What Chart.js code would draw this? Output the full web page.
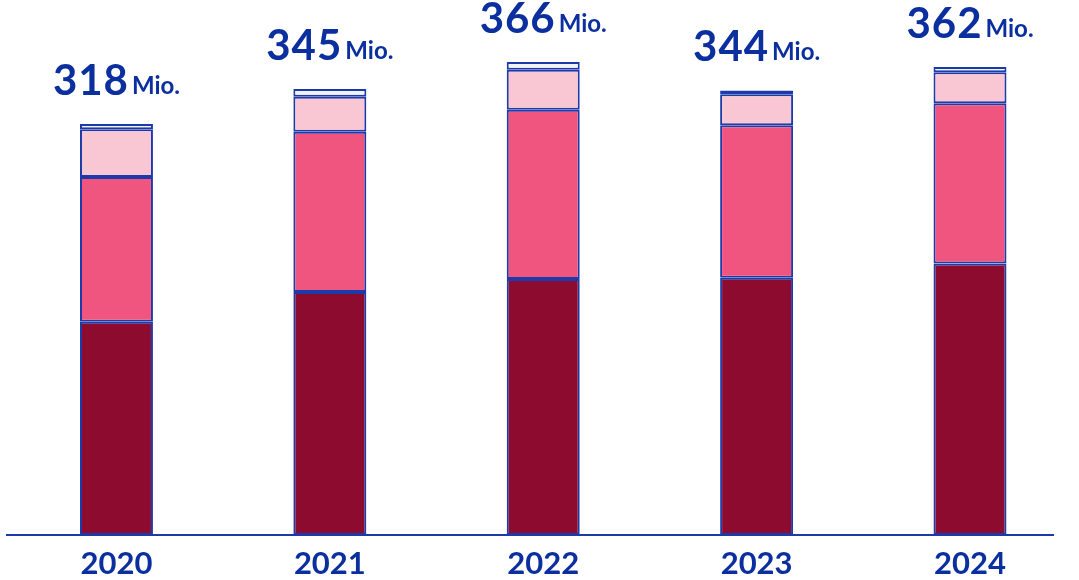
<!DOCTYPE html>
<html>
<head>
    <title>Mio. per Jahr</title>
    <meta charset="utf-8">
    <style>
        html, body { margin: 0; padding: 0; background: #fff; }
        #wrap { width: 1079px; height: 580px; }
    </style>
    <script src="https://cdn.jsdelivr.net/npm/chart.js"></script>
</head>
<body>
    <div id="wrap"><canvas id="mioChart" width="1079" height="580"></canvas></div>

    <script>
        // values (Mio.)
        const years = ['2020', '2021', '2022', '2023', '2024'];
        const darkPart  = [165, 188, 198, 199, 210];
        const midPart   = [112, 124, 131, 118, 124];
        const lightPart = [37, 27, 31, 24, 24];
        const topPart   = [4, 6, 6, 3, 4];
        const totals    = [318, 345, 366, 344, 362];
        const unitText  = 'Mio.';

        const blue = '#1d3aab';
        const textBlue = '#0b2f9f';
        const fontName = 'Lato, "Noto Sans", sans-serif';

        function toPoints(arr) {
            return arr.map((v, i) => ({ x: i, y: v }));
        }

        function segment(arr, color) {
            return {
                data: toPoints(arr),
                backgroundColor: color,
                borderColor: blue,
                borderWidth: 2,
                borderSkipped: false,
                categoryPercentage: 1,
                barPercentage: 0.342
            };
        }

        // total above each bar: big number + small unit
        const totalLabels = {
            id: 'totalLabels',
            afterDatasetsDraw(chart) {
                const ctx = chart.ctx;
                const meta = chart.getDatasetMeta(chart.data.datasets.length - 1);
                ctx.save();
                ctx.fillStyle = textBlue;
                ctx.textBaseline = 'alphabetic';
                ctx.textAlign = 'left';
                meta.data.forEach((bar, i) => {
                    const num = String(totals[i]);
                    ctx.letterSpacing = '1px';
                    ctx.font = 'bold 42px ' + fontName;
                    const wNum = ctx.measureText(num).width;
                    ctx.letterSpacing = '0px';
                    ctx.font = 'bold 24px ' + fontName;
                    const wUnit = ctx.measureText(unitText).width;
                    const gap = 3;
                    const x0 = bar.x - (wNum + gap + wUnit) / 2;
                    const yBase = bar.y - 29;
                    ctx.letterSpacing = '1px';
                    ctx.font = 'bold 42px ' + fontName;
                    ctx.fillText(num, x0, yBase);
                    ctx.letterSpacing = '0px';
                    ctx.font = 'bold 24px ' + fontName;
                    ctx.fillText(unitText, x0 + wNum + gap, yBase - 1);
                });
                ctx.restore();
            }
        };

        new Chart(document.getElementById('mioChart'), {
            type: 'bar',
            data: {
                datasets: [
                    segment(darkPart, '#8d0b2f'),
                    segment(midPart, '#f0557f'),
                    segment(lightPart, '#f9c6d3'),
                    segment(topPart, '#f2f3f8')
                ]
            },
            options: {
                responsive: false,
                animation: false,
                layout: { padding: { left: 7, right: 26, top: 18, bottom: -12 } },
                plugins: {
                    legend: { display: false },
                    tooltip: { enabled: false }
                },
                scales: {
                    x: {
                        type: 'linear',
                        stacked: true,
                        offset: false,
                        min: -0.513,
                        max: 4.389,
                        afterBuildTicks: scale => {
                            scale.ticks = years.map((_, i) => ({ value: i }));
                        },
                        grid: { display: false, drawTicks: false, offset: false },
                        border: { display: true, color: blue, width: 2 },
                        ticks: {
                            autoSkip: false,
                            maxRotation: 0,
                            padding: 13,
                            color: textBlue,
                            font: { family: fontName, size: 31, weight: 'bold', lineHeight: 1 },
                            callback: value => years[value]
                        }
                    },
                    y: {
                        stacked: true,
                        display: false,
                        min: 0,
                        max: 400
                    }
                }
            },
            plugins: [totalLabels]
        });
    </script>
</body>
</html>
